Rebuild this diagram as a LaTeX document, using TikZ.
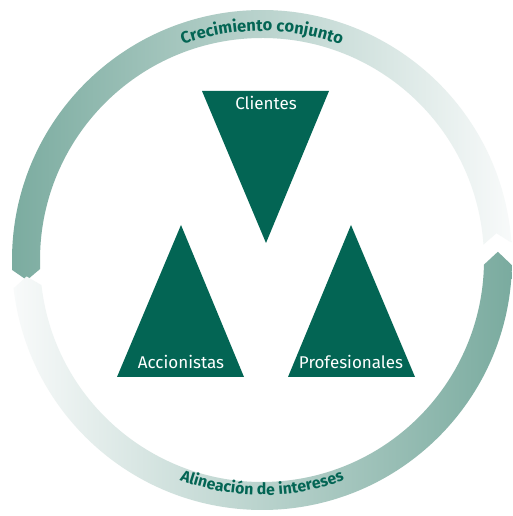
\documentclass[tikz,border=0pt]{standalone}
\usepackage{fontspec}
\setmainfont{Fira Sans}
\usetikzlibrary{decorations.text}
\definecolor{dkgreen}{HTML}{036554}
\definecolor{ringdark}{HTML}{7AAB9F}
\definecolor{ringlight}{HTML}{F8FAFA}
\tikzset{
  tri/.style={fill=dkgreen, draw=none},
  trilabel/.style={text=white, font=\fontsize{17}{20}\selectfont, inner sep=0pt, anchor=base},
  ringtext/.style={decorate, decoration={text along path, text align=center, text color=dkgreen}},
}
\begin{document}
\begin{tikzpicture}[x=1pt,y=1pt]
\useasboundingbox (0,0) rectangle (512,516);
\fill[white] (0,0) rectangle (512,516);
\begin{scope}[shift={(262,256)}]
  % upper arc: dark at left tip, fading to the right
  \shade[left color=ringdark, right color=ringlight]
    (182.3:250) arc[start angle=182.3, end angle=4, radius=250]
    -- (6.5:236) -- (4:222)
    arc[start angle=4, end angle=182.3, radius=222]
    -- (184.9:236) -- cycle;
  % lower arc: light at left, dark at right tip
  \shade[left color=ringlight, right color=ringdark]
    (-1.2:250) arc[start angle=-1.2, end angle=-173.5, radius=250]
    -- (-176:236) -- (-173.5:222)
    arc[start angle=-173.5, end angle=-1.2, radius=222]
    -- (2:236) -- cycle;
  \path[ringtext, decoration={text={|\fontsize{16.5}{19}\selectfont\bfseries|Crecimiento conjunto}}]
    (180:229) arc[start angle=180, end angle=0, radius=229];
  \path[ringtext, decoration={text={|\fontsize{15.8}{19}\selectfont\bfseries|Alineación de intereses}}]
    (-180:235) arc[start angle=-180, end angle=0, radius=235];
\end{scope}
\fill[tri] (202,425) -- (329,425) -- (266,273) -- cycle;
\fill[tri] (117,139) -- (244,139) -- (181,291) -- cycle;
\fill[tri] (288,139) -- (415,139) -- (351,291) -- cycle;
\node[trilabel] (clientes) at (266,406) {Clientes};
\node[trilabel] (accionistas) at (181,147) {Accionistas};
\node[trilabel] (profesionales) at (351,147) {Profesionales};
\end{tikzpicture}
\end{document}
